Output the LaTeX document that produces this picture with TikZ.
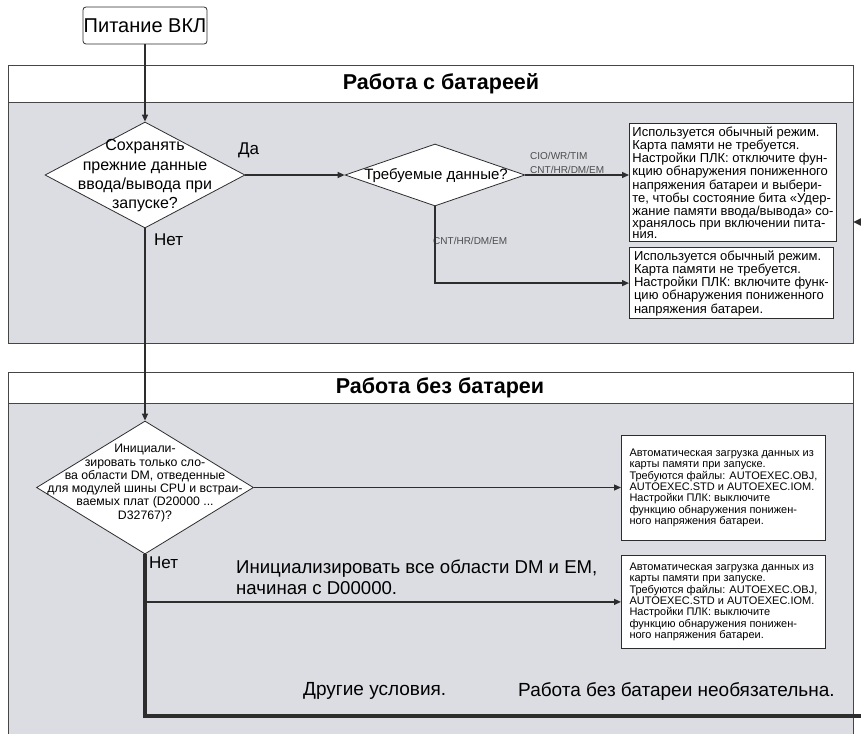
\documentclass[tikz,border=0pt]{standalone}
\usepackage{fontspec}
\setmainfont{Liberation Sans}
\usetikzlibrary{shapes.geometric,arrows.meta}
\definecolor{panelgray}{RGB}{219,221,226}
\definecolor{panelline}{RGB}{70,70,70}
\definecolor{flowline}{RGB}{45,45,45}

\begin{document}
\begin{tikzpicture}[x=1pt, y=-1pt,
  flow/.style={draw=flowline, line width=1.3pt, -{Triangle[length=7pt,width=6pt]}},
  mainloop/.style={draw=flowline, line width=3.2pt, -{Triangle[length=8pt,width=7pt]}},
  decision/.style={diamond, draw=flowline, fill=white, line width=0.8pt, inner sep=0pt},
  dtext/.style={align=center, inner sep=0pt},
  notebox/.style={rectangle, draw=flowline, fill=white, line width=0.8pt, align=left,
    inner sep=3pt, anchor=north west, minimum width=204},
  answer/.style={font=\fontsize{17}{20}\selectfont, anchor=west, inner sep=0pt},
  branchlbl/.style={font=\fontsize{10}{11}\selectfont, text=black!70, anchor=west, inner sep=0pt},
  paneltitle/.style={font=\bfseries\fontsize{21.5}{24}\selectfont, inner sep=0pt}]
% Flowchart exported with pixel coordinates (1pt = 1px)
\providecommand{\panelBorderWidth}{0.9pt}
\useasboundingbox (0,0) rectangle (861,733);
\clip (0,0) rectangle (861,733);
% Panel: with battery
\draw[draw=panelline, line width=\panelBorderWidth, fill=panelgray] (8,65) rectangle (853,343);
\draw[draw=panelline, line width=\panelBorderWidth, fill=white] (8,65) rectangle (853,102);
\node[paneltitle] (withbatt) at (441,84) {Работа с батареей};
% Panel: without battery
\draw[draw=panelline, line width=\panelBorderWidth, fill=panelgray] (8,372) rectangle (853,750);
\draw[draw=panelline, line width=\panelBorderWidth, fill=white] (8,372) rectangle (853,403);
\node[paneltitle] (nobatt) at (440,388) {Работа без батареи};
% Start
\node[draw=flowline, fill=white, line width=0.8pt, rounded corners=3pt, minimum width=124,
  minimum height=37, font=\fontsize{20}{22}\selectfont, inner sep=0pt] (pwr) at (145,25.5) {Питание ВКЛ};
% Decisions
\node[decision, minimum width=200, minimum height=106] (keep) at (145,175) {};
\node[dtext, font=\fontsize{16}{19.3}\selectfont] (keeptxt) at (145,176)
  {Сохранять\\прежние данные\\ввода/вывода при\\запуске?};
\node[decision, minimum width=180, minimum height=62] (need) at (435,175) {};
\node[dtext, font=\fontsize{15}{17}\selectfont] (needtxt) at (436,176) {Требуемые данные?};
\node[decision, minimum width=217, minimum height=133] (init) at (145,487.5) {};
\node[dtext, font=\fontsize{12.3}{13.3}\selectfont] (inittxt) at (145,483)
  {Инициали-\\зировать только сло-\\ва области DM, отведенные\\для модулей шины CPU и встраи-\\ваемых плат (D20000 ...\\D32767)?};
% Result boxes
\node[notebox, minimum height=105, font=\fontsize{13}{11.7}\selectfont] (cfgkeep) at (629,123)
  {Используется обычный режим.\\Карта памяти не требуется.\\Настройки ПЛК: отключите фун-\\кцию обнаружения пониженного\\напряжения батареи и выбери-\\те, чтобы состояние бита «Удер-\\жание памяти ввода/вывода» со-\\хранялось при включении пита-\\ния.};
\node[notebox, minimum height=70, font=\fontsize{13}{11.7}\selectfont] (cfglow) at (629,247)
  {Используется обычный режим.\\Карта памяти не требуется.\\Настройки ПЛК: включите функ-\\цию обнаружения пониженного\\напряжения батареи.};
\node[notebox, minimum height=105, font=\fontsize{11}{11.3}\selectfont] (autoload) at (621,435)
  {Автоматическая загрузка данных из\\карты памяти при запуске.\\Требуются файлы: AUTOEXEC.OBJ,\\AUTOEXEC.STD и AUTOEXEC.IOM.\\Настройки ПЛК: выключите\\функцию обнаружения понижен-\\ного напряжения батареи.};
\node[notebox, minimum height=93, font=\fontsize{11}{11.3}\selectfont] (autoall) at (621,555)
  {Автоматическая загрузка данных из\\карты памяти при запуске.\\Требуются файлы: AUTOEXEC.OBJ,\\AUTOEXEC.STD и AUTOEXEC.IOM.\\Настройки ПЛК: выключите\\функцию обнаружения понижен-\\ного напряжения батареи.};
% Labels
\node[answer] (yes1) at (238,150) {Да};
\node[answer] (no1) at (154,240) {Нет};
\node[answer] (no2) at (149,563) {Нет};
\node[branchlbl] (lblcio) at (530,156) {CIO/WR/TIM};
\node[branchlbl] (lblcnt) at (530,170) {CNT/HR/DM/EM};
\node[branchlbl] (lblcnt2) at (433,241) {CNT/HR/DM/EM};
\node[align=left, anchor=west, inner sep=0pt, font=\fontsize{18.6}{21}\selectfont] (initall) at (236,577)
  {Инициализировать все области DM и EM,\\начиная с D00000.};
\node[anchor=west, inner sep=0pt, font=\fontsize{19}{20}\selectfont] (other) at (303,691) {Другие условия.};
\node[anchor=west, inner sep=0pt, font=\fontsize{19}{20}\selectfont] (optional) at (518,691) {Работа без батареи необязательна.};
% Connectors
\coordinate (turn) at (880,716);
\coordinate (reentry) at (853,222);
\draw[flow] (pwr) -- (keep);
\draw[flow] (keep) -- (need);
\draw[flow] (need.east) -- (need.east -| cfgkeep.west);
\draw[flow] (need.south) |- (cfglow.west);
\draw[flow] (keep.south) -- (init.north);
\draw[flow] (init.east) -- (init.east -| autoload.west);
\draw[flow] (init.south |- autoall.west) -- (autoall.west);
\draw[mainloop] (init.south) |- (turn) |- (reentry);
\end{tikzpicture}
\end{document}
